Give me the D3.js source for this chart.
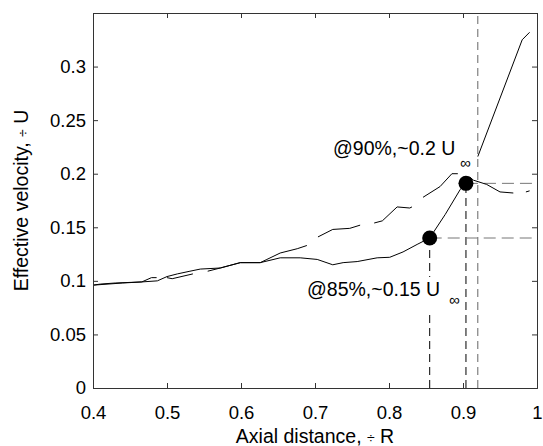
<!DOCTYPE html>
<html>
<head>
<meta charset="utf-8">
<script src="https://cdn.jsdelivr.net/npm/d3@7/dist/d3.min.js"></script>
<style>
  body { margin: 0; background: #fff; }
  svg text { font-family: "Liberation Sans", Arial, sans-serif; }
</style>
</head>
<body>
<svg id="chart"></svg>
<script>
// chart values (null = break in the trace)
var xTicks = [0.4, 0.5, 0.6, 0.7, 0.8, 0.9, 1];
var xTickLabels = ["0.4", "0.5", "0.6", "0.7", "0.8", "0.9", "1"];
var yTicks = [0, 0.05, 0.1, 0.15, 0.2, 0.25, 0.3];
var yTickLabels = ["0", "0.05", "0.1", "0.15", "0.2", "0.25", "0.3"];

// lower trace (solid)
var lowerX = [0.4, 0.41, 0.43, 0.466, 0.487, 0.5, 0.514, 0.531, 0.545, 0.572, 0.599, 0.626, 0.653, 0.68,
  0.703, 0.724, 0.738, 0.757, 0.784, 0.801, 0.819, 0.838, 0.855, 0.876, 0.896, 0.904, null, 0.92, 0.98, 0.99];
var lowerY = [0.096, 0.097, 0.098, 0.099, 0.1, 0.104, 0.1065, 0.109, 0.111, 0.112, 0.117, 0.117, 0.1215, 0.1215,
  0.12, 0.115, 0.117, 0.118, 0.1215, 0.122, 0.127, 0.134, 0.14, 0.162, 0.185, 0.191, null, 0.216, 0.325, 0.332];

// upper trace (broken)
var upperX = [0.4, 0.44, 0.466, 0.479, 0.486, null, 0.5, 0.507, 0.535, null,
  0.555, 0.572, 0.599, 0.626, 0.635, 0.653, 0.676, 0.689, null,
  0.704, 0.724, 0.747, 0.761, null, 0.78, 0.791, 0.811, 0.828, 0.831, null,
  0.846, 0.869, 0.885, 0.893, null, 0.909, 0.914, 0.932, 0.95, 0.968, null, 0.985, 0.99];
var upperY = [0.096, 0.098, 0.099, 0.103, 0.103, null, 0.103, 0.102, 0.1065, null,
  0.109, 0.112, 0.117, 0.117, 0.12, 0.126, 0.13, 0.133, null,
  0.141, 0.148, 0.149, 0.152, null, 0.154, 0.156, 0.169, 0.168, 0.169, null,
  0.178, 0.188, 0.2, 0.2, null, 0.197, 0.194, 0.19, 0.183, 0.182, null, 0.183, 0.184];

// highlighted points
var markX = [0.855, 0.904];
var markY = [0.14, 0.191];
var markLabels = ["@85%,~0.15 U", "@90%,~0.2 U"];
var extraLineX = 0.92;

var svgWidth = 543, svgHeight = 446;
var margin = {top: 13, right: 6, bottom: 58, left: 93};

var svg = d3.select("#chart")
  .attr("width", svgWidth)
  .attr("height", svgHeight);

var xScale = d3.scaleLinear()
  .domain([0.4, 1])
  .range([margin.left, svgWidth - margin.right]);

var yScale = d3.scaleLinear()
  .domain([0, 0.35])
  .range([svgHeight - margin.bottom, margin.top]);

// reference dashed lines
var dash = "8,5";
// vertical lines at marks
svg.selectAll(".vline")
  .data(markX)
  .enter()
  .append("line")
  .attr("x1", function(d) { return xScale(d); })
  .attr("x2", function(d) { return xScale(d); })
  .attr("y1", yScale(0))
  .attr("y2", function(d, i) { return yScale(markY[i]); })
  .attr("stroke", "#000")
  .attr("stroke-dasharray", dash);

svg.append("line")
  .attr("x1", xScale(extraLineX))
  .attr("x2", xScale(extraLineX))
  .attr("y1", yScale(0))
  .attr("y2", yScale(0.35))
  .attr("stroke", "#666")
  .attr("stroke-dasharray", dash);

// horizontal lines from marks to right edge
svg.selectAll(".hline")
  .data(markY)
  .enter()
  .append("line")
  .attr("x1", function(d, i) { return xScale(markX[i]); })
  .attr("x2", xScale(1))
  .attr("y1", function(d) { return yScale(d); })
  .attr("y2", function(d) { return yScale(d); })
  .attr("stroke", "#777")
  .attr("stroke-dasharray", "12,6");

// curves
var line = d3.line()
  .defined(function(d) { return d[1] !== null; })
  .x(function(d) { return xScale(d[0]); })
  .y(function(d) { return yScale(d[1]); });

svg.append("path")
  .datum(lowerX.map(function(d, i) { return [d, lowerY[i]]; }))
  .attr("d", line)
  .attr("fill", "none")
  .attr("stroke", "#000")
  .attr("stroke-width", 1);

svg.append("path")
  .datum(upperX.map(function(d, i) { return [d, upperY[i]]; }))
  .attr("d", line)
  .attr("fill", "none")
  .attr("stroke", "#000")
  .attr("stroke-width", 1);

// markers
svg.selectAll(".mark")
  .data(markX)
  .enter()
  .append("circle")
  .attr("cx", function(d) { return xScale(d); })
  .attr("cy", function(d, i) { return yScale(markY[i]); })
  .attr("r", 7.5)
  .attr("fill", "#000");

// annotations
var ann85 = svg.append("g");
ann85.append("rect")
  .attr("x", 302).attr("y", 277).attr("width", 158).attr("height", 36)
  .attr("fill", "#fff");
ann85.append("text")
  .attr("x", 307).attr("y", 296)
  .attr("font-size", "19.5px")
  .text(markLabels[0]);
ann85.append("text")
  .attr("x", 449).attr("y", 305)
  .attr("font-size", "15px")
  .text("\u221E");

var ann90 = svg.append("g");
ann90.append("text")
  .attr("x", 333).attr("y", 155)
  .attr("font-size", "19.5px")
  .text(markLabels[1]);
ann90.append("text")
  .attr("x", 460).attr("y", 168)
  .attr("font-size", "15px")
  .text("\u221E");

// axes, box with inward ticks
var axisColor = "#333";
var xAxis = svg.append("g")
  .attr("transform", "translate(0," + yScale(0) + ")")
  .call(d3.axisBottom(xScale).tickValues(xTicks)
    .tickFormat(function(d, i) { return xTickLabels[i]; })
    .tickSize(-5).tickPadding(18));

var yAxis = svg.append("g")
  .attr("transform", "translate(" + xScale(0.4) + ",0)")
  .call(d3.axisLeft(yScale).tickValues(yTicks)
    .tickFormat(function(d, i) { return yTickLabels[i]; })
    .tickSize(-5).tickPadding(7));

var topAxis = svg.append("g")
  .attr("transform", "translate(0," + yScale(0.35) + ")")
  .call(d3.axisTop(xScale).tickValues(xTicks).tickFormat("").tickSize(-5));

var rightAxis = svg.append("g")
  .attr("transform", "translate(" + xScale(1) + ",0)")
  .call(d3.axisRight(yScale).tickValues(yTicks).tickFormat("").tickSize(-5));

svg.selectAll(".domain").attr("stroke", axisColor);
svg.selectAll(".tick line").attr("stroke", axisColor);
svg.selectAll(".tick text")
  .attr("font-family", "'Liberation Sans', Arial, sans-serif")
  .attr("font-size", "18.5px")
  .attr("fill", "#000");

// axis titles
var xTitle = svg.append("text")
  .attr("x", (xScale(0.4) + xScale(1)) / 2)
  .attr("y", 443)
  .attr("text-anchor", "middle")
  .attr("font-size", "19.5px");
xTitle.append("tspan").text("Axial distance,  ");
xTitle.append("tspan").attr("font-size", "14px").text("\u00F7");
xTitle.append("tspan").text(" R");

var yTitle = svg.append("text")
  .attr("transform", "translate(28," + (yScale(0) + yScale(0.35)) / 2 + ") rotate(-90)")
  .attr("text-anchor", "middle")
  .attr("font-size", "19.5px");
yTitle.append("tspan").text("Effective velocity, ");
yTitle.append("tspan").attr("font-size", "14px").text("\u00F7");
yTitle.append("tspan").text(" U");
</script>
</body>
</html>
